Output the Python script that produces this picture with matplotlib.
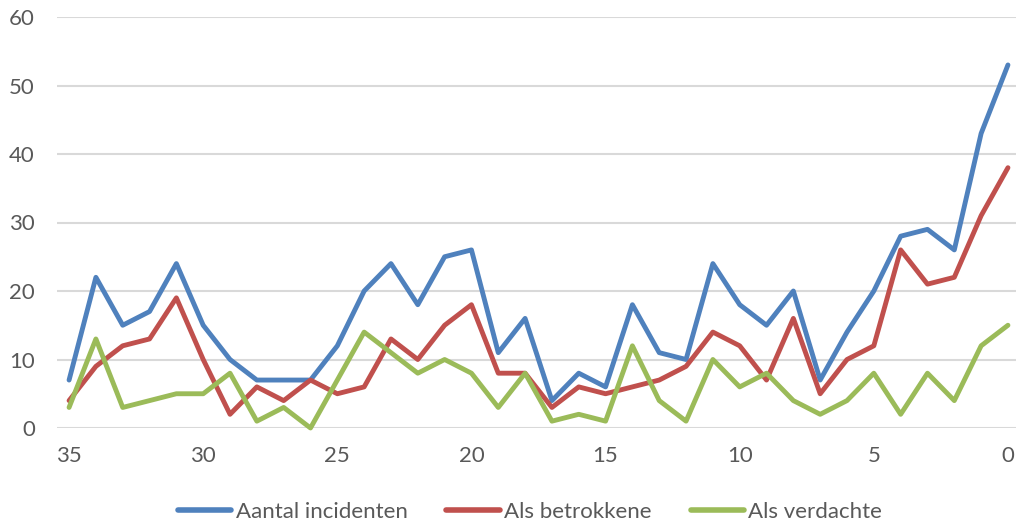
import matplotlib
matplotlib.use('Agg')
import matplotlib.pyplot as plt

# weeks before now, 35 .. 0
weeks = list(range(35, -1, -1))

incidenten = [7, 22, 15, 17, 24, 15, 10, 7, 7, 7, 12, 20, 24, 18, 25, 26, 11, 16,
              4, 8, 6, 18, 11, 10, 24, 18, 15, 20, 7, 14, 20, 28, 29, 26, 43, 53]
betrokkene = [4, 9, 12, 13, 19, 10, 2, 6, 4, 7, 5, 6, 13, 10, 15, 18, 8, 8,
              3, 6, 5, 6, 7, 9, 14, 12, 7, 16, 5, 10, 12, 26, 21, 22, 31, 38]
verdachte = [3, 13, 3, 4, 5, 5, 8, 1, 3, 0, 7, 14, 11, 8, 10, 8, 3, 8,
             1, 2, 1, 12, 4, 1, 10, 6, 8, 4, 2, 4, 8, 2, 8, 4, 12, 15]

labels = ['Aantal incidenten', 'Als betrokkene', 'Als verdachte']
colors = ['#4F81BD', '#C0504D', '#9BBB59']

plt.rcParams['font.family'] = ['Lato', 'DejaVu Sans']

fig = plt.figure(figsize=(10.16, 5.26), dpi=100)
ax = fig.add_axes([57 / 1016, (526 - 428) / 526, 959 / 1016, 411 / 526])

for series, lab, col in zip([incidenten, betrokkene, verdachte], labels, colors):
    ax.plot(weeks, series, color=col, linewidth=3.5, label=lab,
            solid_joinstyle='round', solid_capstyle='round',
            clip_on=False, zorder=3)

ax.set_xlim(35.45, -0.3)
ax.set_ylim(0, 60)
ax.set_yticks(range(0, 61, 10))
ax.set_xticks(range(35, -1, -5))
ax.grid(axis='y', color='#d9d9d9', linewidth=1.5)
ax.set_axisbelow(True)
for s in ax.spines.values():
    s.set_visible(False)
ax.tick_params(length=0, labelsize=16, colors='#595959')
ax.tick_params(axis='x', pad=13)
ax.tick_params(axis='y', pad=16)

leg = fig.legend(loc='center', bbox_to_anchor=(530 / 1016, 1 - 512 / 526), ncol=3,
                 frameon=False, fontsize=16, handlelength=2.4,
                 handletextpad=0.2, columnspacing=1.75, borderpad=0)
for t in leg.get_texts():
    t.set_color('#595959')
for h in leg.legend_handles:
    h.set_linewidth(4)
    h.set_solid_capstyle('round')

fig.savefig('out.png', dpi=100)
